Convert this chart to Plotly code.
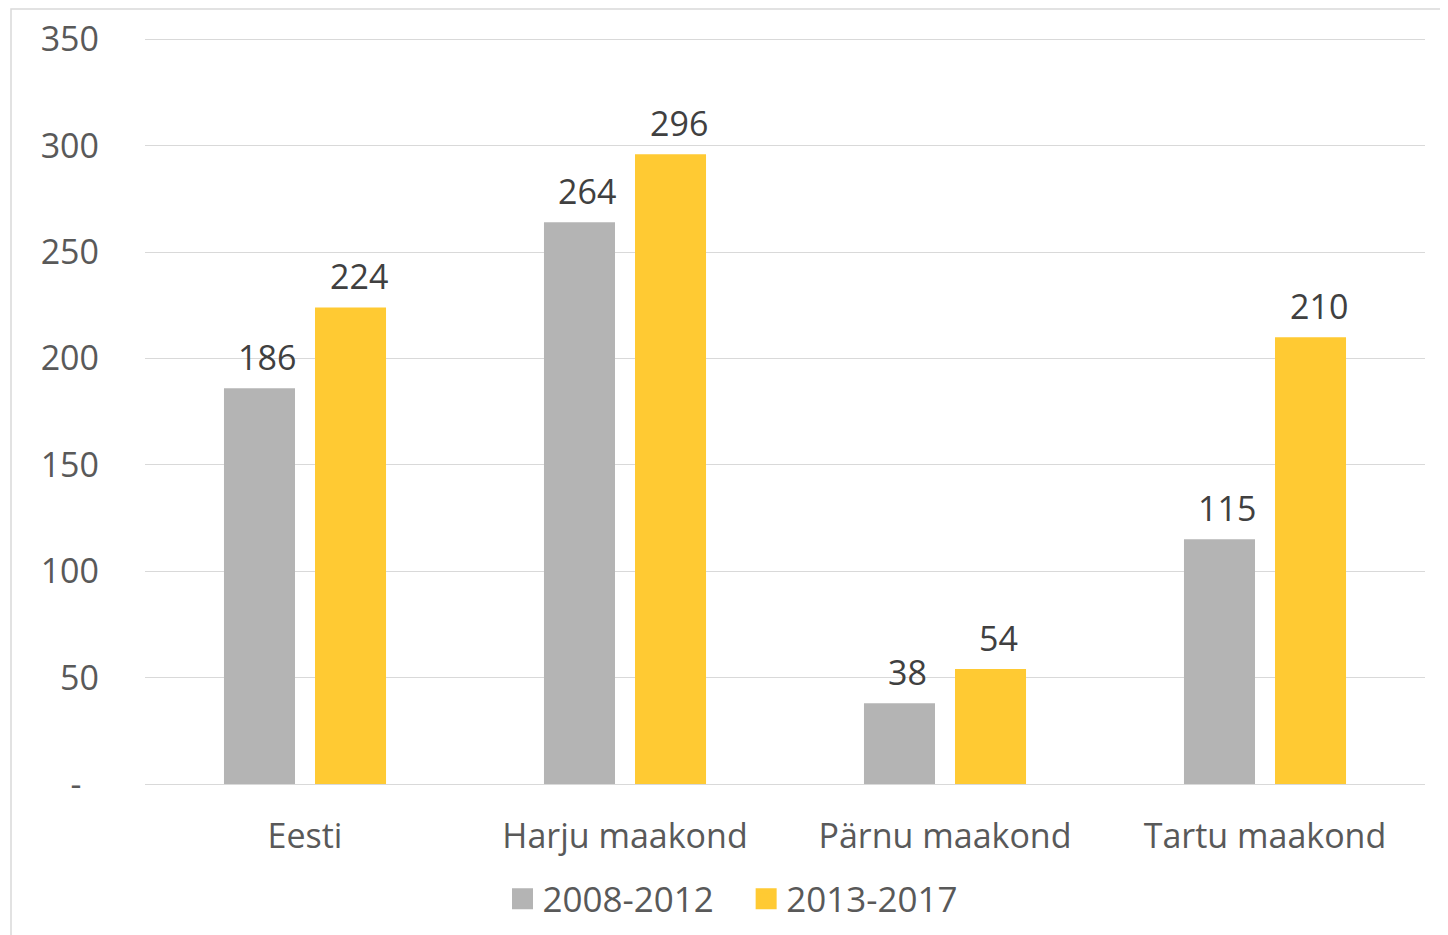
import plotly.graph_objects as go

categories = ["Eesti", "Harju maakond", "Pärnu maakond", "Tartu maakond"]
series_names = ["2008-2012", "2013-2017"]
values_2008_2012 = [186, 264, 38, 115]
values_2013_2017 = [224, 296, 54, 210]
tick_vals = [0, 50, 100, 150, 200, 250, 300, 350]
tick_text = ["-\u00a0\u00a0", "50", "100", "150", "200", "250", "300", "350"]

colors = ["#B4B4B4", "#FFCA33"]
FONT = "Open Sans"
FS = 34
W, H = 1440, 927
ML, MR, MT, MB = 137, 23, 30, 151
BARGAP, GROUPGAP = 0.431, 0.22

pw = W - ML - MR
ph = H - MT - MB
slot_px = pw / len(categories) * (1 - BARGAP) / 2

fig = go.Figure()
for name, vals, col in zip(series_names, [values_2008_2012, values_2013_2017], colors):
    fig.add_trace(go.Bar(
        x=categories, y=vals, name=name, marker_color=col, marker_line_width=0,
        showlegend=False,
    ))
# data labels, placed through the axes above each bar
annotations = []
for si, vals in enumerate([values_2008_2012, values_2013_2017]):
    shift = (si - 0.5) * slot_px + 8
    for cat, v in zip(categories, vals):
        annotations.append(dict(
            x=cat, y=v, xref="x", yref="y", text=str(v), showarrow=False,
            xshift=shift, yshift=6, yanchor="bottom",
            font=dict(family=FONT, size=FS, color="#404040"),
        ))
# legend entries with larger square markers
for i, (name, col) in enumerate(zip(series_names, colors)):
    fig.add_trace(go.Scatter(
        x=[None], y=[None], mode="markers",
        name=name + ("\u00a0\u00a0\u00a0" if i == 0 else ""),
        marker=dict(symbol="square", size=16, color=col, line=dict(color=col, width=6)),
        showlegend=True,
    ))

fig.update_layout(
    width=W, height=H,
    margin=dict(l=ML, r=MR, t=MT, b=MB, autoexpand=False),
    paper_bgcolor="white", plot_bgcolor="white",
    barmode="group", bargap=BARGAP, bargroupgap=GROUPGAP,
    font=dict(family=FONT, size=FS, color="#595959"),
    showlegend=True,
    legend=dict(orientation="h", x=(733 - 145) / 1280, xanchor="center", y=-0.154, yanchor="middle",
                font=dict(family=FONT, size=35, color="#595959"),
                traceorder="normal", itemwidth=30),
    xaxis=dict(showgrid=False, showline=False, ticks="", ticklabelstandoff=29,
               tickfont=dict(size=FS, color="#595959")),
    yaxis=dict(range=[0, 350.6], tickvals=tick_vals, ticktext=tick_text,
               showgrid=True, gridcolor="#D9D9D9", gridwidth=1,
               zeroline=True, zerolinecolor="#D9D9D9", zerolinewidth=1,
               showline=False, ticks="", ticklabelstandoff=45,
               tickfont=dict(size=FS, color="#595959")),
    annotations=annotations,
    shapes=[dict(type="rect", xref="paper", yref="paper",
                 x0=(3 - ML) / pw, x1=(1437 - ML) / pw,
                 y0=-(MB + 10) / ph, y1=(ph + MT - 1) / ph,
                 line=dict(color="#D9D9D9", width=1.5), fillcolor="rgba(0,0,0,0)", layer="below")],
)
fig.write_html("out.html")
